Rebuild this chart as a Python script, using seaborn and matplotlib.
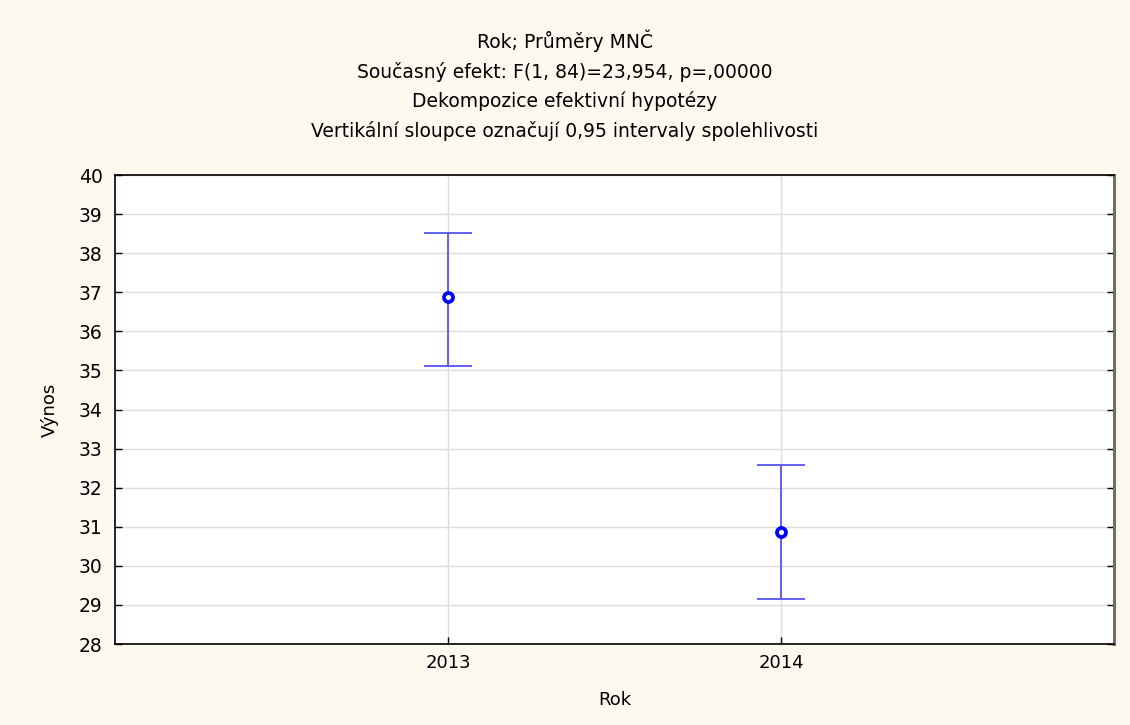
import matplotlib
matplotlib.use("Agg")
import matplotlib.pyplot as plt
import seaborn as sns
import pandas as pd
import numpy as np

years = ["2013", "2014"]
means = [36.88, 30.87]
ci_low = [35.11, 29.15]
ci_high = [38.52, 32.58]

title_lines = [
    "Rok; Průměry MNČ",
    "Současný efekt: F(1, 84)=23,954, p=,00000",
    "Dekompozice efektivní hypotézy",
    "Vertikální sloupce označují 0,95 intervaly spolehlivosti",
]

sns.set_theme(style="white")
plt.rcParams['font.family'] = ['DejaVu Sans']
plt.rcParams['text.color'] = 'black'
plt.rcParams['axes.labelcolor'] = 'black'
plt.rcParams['xtick.color'] = 'black'
plt.rcParams['ytick.color'] = 'black'

df = pd.DataFrame({"Rok": years, "Výnos": means, "lo": ci_low, "hi": ci_high})

fig = plt.figure(figsize=(11.3, 7.25), dpi=100, facecolor="#FEF9EE")
ax = fig.add_axes([115/1130, 1-644/725, (1114-115)/1130, (644-175)/725])
ax.set_facecolor("white")

xpos = np.arange(len(years))
ax.errorbar(xpos, df["Výnos"], yerr=[df["Výnos"]-df["lo"], df["hi"]-df["Výnos"]],
            fmt="none", ecolor="#5555F5", elinewidth=1.3, capsize=17, capthick=1.3, zorder=3)
sns.scatterplot(x=xpos, y=df["Výnos"], ax=ax, marker="o", s=42, facecolor="white",
                edgecolor="#0000FF", linewidth=2.7, zorder=4, legend=False)

ax.set_xlim(-1, 2)
ax.set_ylim(28, 40)
ax.set_xticks(xpos)
ax.set_xticklabels(years)
ax.set_yticks(range(28, 41))
ax.grid(True, color="#DCDCDC", linewidth=1)
ax.set_axisbelow(True)
for s in ["left", "top", "bottom"]:
    ax.spines[s].set_color("black")
    ax.spines[s].set_linewidth(1.2)
ax.spines["right"].set_color("#6E6E6E")
ax.spines["right"].set_linewidth(2.2)
ax.tick_params(axis="y", direction="in", length=5, width=1, left=True, right=True,
               labelsize=13.5, colors="black", pad=9)
ax.tick_params(axis="x", direction="in", length=5, width=1, bottom=True,
               labelsize=13, colors="black", pad=7)
ax.set_xlabel("Rok", fontsize=13, labelpad=14)
ax.set_ylabel("Výnos", fontsize=13, labelpad=14)

ys = [41, 72, 101, 131]
for t, y in zip(title_lines, ys):
    fig.text(0.5, 1 - y/725, t, ha="center", va="center", fontsize=13.5, color="black")

fig.savefig("out.png", dpi=100, facecolor=fig.get_facecolor())
